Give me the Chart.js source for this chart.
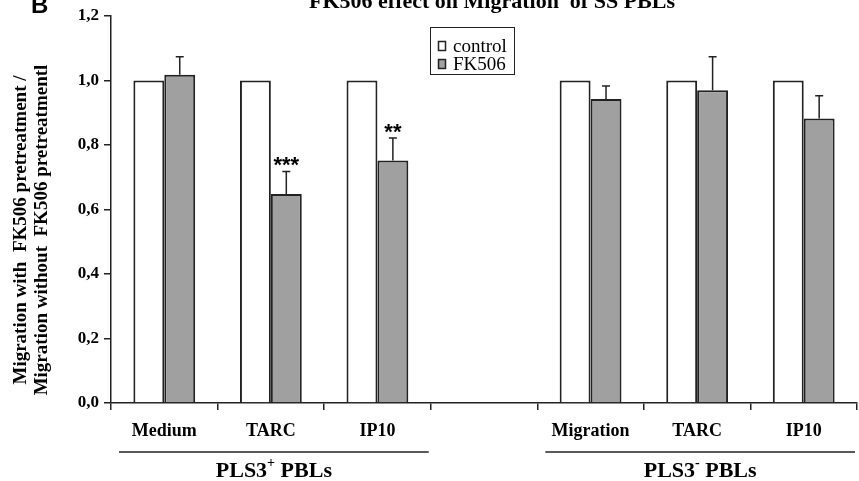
<!DOCTYPE html>
<html>
<head>
<meta charset="utf-8">
<script src="https://cdn.jsdelivr.net/npm/chart.js@4.4.1/dist/chart.umd.min.js"></script>
<style>
  body { margin: 0; background: #fff; }
  #wrap { width: 859px; height: 481px; }
</style>
</head>
<body>
<div id="wrap"><canvas id="fkChart" width="859" height="481"></canvas></div>
<script>
// categories (4th slot is the empty gap between the two groups)
const categories = ['Medium', 'TARC', 'IP10', '', 'Migration', 'TARC', 'IP10'];
const controlValues = [1.0, 1.0, 1.0, null, 1.0, 1.0, 1.0];
const fk506Values = [1.018, 0.648, 0.752, null, 0.943, 0.970, 0.882];
const fk506Errors = [0.056, 0.070, 0.070, null, 0.040, 0.104, 0.071];
const significance = ['', '***', '**', '', '', '', ''];
const groups = [
  { label: 'PLS3', sup: '+', rest: ' PBLs', from: 0, to: 2 },
  { label: 'PLS3', sup: '-', rest: ' PBLs', from: 4, to: 6 }
];
const yTitleLines = ['Migration with  FK506 pretreatment /', 'Migration without  FK506 pretreatmentl'];
const chartTitle = 'FK506 effect on Migration  of SS PBLs';

const ink = '#222';
const serif = '"Liberation Serif", "DejaVu Serif", serif';

// error bars, stars, legend, titles, group brackets
const extras = {
  id: 'extras',
  afterDatasetsDraw(chart) {
    const ctx = chart.ctx;
    const y = chart.scales.y;
    const meta = chart.getDatasetMeta(1);
    ctx.save();
    ctx.strokeStyle = ink;
    ctx.lineWidth = 1.5;
    meta.data.forEach((bar, i) => {
      if (fk506Values[i] == null) return;
      const top = y.getPixelForValue(fk506Values[i] + fk506Errors[i]);
      ctx.beginPath();
      ctx.moveTo(bar.x, bar.y);
      ctx.lineTo(bar.x, top);
      ctx.moveTo(bar.x - 4, top);
      ctx.lineTo(bar.x + 4, top);
      ctx.stroke();
      if (significance[i]) {
        ctx.fillStyle = '#000';
        ctx.font = 'bold 22px "Liberation Sans", Arial, sans-serif';
        ctx.textAlign = 'center';
        ctx.textBaseline = 'alphabetic';
        ctx.fillText(significance[i], bar.x, top + 1);
      }
    });
    ctx.restore();
  },
  afterDraw(chart) {
    const ctx = chart.ctx;
    const x = chart.scales.x;
    ctx.save();

    // panel letter and clipped title
    ctx.fillStyle = '#000';
    ctx.textBaseline = 'alphabetic';
    ctx.font = 'bold 24px "Liberation Sans", Arial, sans-serif';
    ctx.textAlign = 'left';
    ctx.fillText('B', 31, 13);
    ctx.font = 'bold 22px ' + serif;
    ctx.textAlign = 'center';
    ctx.fillText(chartTitle, 492, 8);

    // y axis title, two lines
    ctx.font = 'bold 19px ' + serif;
    yTitleLines.forEach((line, k) => {
      ctx.save();
      ctx.translate(21 + k * 21, 230);
      ctx.rotate(-Math.PI / 2);
      ctx.textAlign = 'center';
      ctx.textBaseline = 'middle';
      ctx.fillText(line, 0, 0);
      ctx.restore();
    });

    // legend box
    ctx.strokeStyle = ink;
    ctx.lineWidth = 1;
    ctx.strokeRect(430.5, 27.5, 84, 47);
    const legendItems = [
      { text: chart.data.datasets[0].label, fill: chart.data.datasets[0].backgroundColor },
      { text: chart.data.datasets[1].label, fill: chart.data.datasets[1].backgroundColor }
    ];
    ctx.font = '19px ' + serif;
    ctx.textAlign = 'left';
    ctx.textBaseline = 'middle';
    legendItems.forEach((it, k) => {
      const cy = 46 + k * 18;
      ctx.fillStyle = it.fill;
      ctx.fillRect(438.5, cy - 4.5, 7, 9);
      ctx.lineWidth = 1.5;
      ctx.strokeRect(438.5, cy - 4.5, 7, 9);
      ctx.fillStyle = '#000';
      ctx.fillText(it.text, 453, cy + 1);
    });

    // group brackets under the category labels
    const half = (x.getPixelForValue(1) - x.getPixelForValue(0)) / 2;
    groups.forEach(g => {
      const x0 = x.getPixelForValue(g.from) - half + 8;
      const x1 = x.getPixelForValue(g.to) + half - 2;
      ctx.strokeStyle = ink;
      ctx.lineWidth = 1.5;
      ctx.beginPath();
      ctx.moveTo(x0, 452);
      ctx.lineTo(x1, 452);
      ctx.stroke();
      ctx.fillStyle = '#000';
      ctx.textBaseline = 'alphabetic';
      ctx.textAlign = 'left';
      const big = 'bold 22px ' + serif;
      const small = 'bold 14px ' + serif;
      ctx.font = big;
      const w1 = ctx.measureText(g.label).width;
      const w3 = ctx.measureText(g.rest).width;
      ctx.font = small;
      const w2 = ctx.measureText(g.sup).width;
      let cx = (x0 + x1) / 2 - (w1 + w2 + w3) / 2;
      ctx.font = big;
      ctx.fillText(g.label, cx, 477);
      ctx.font = small;
      ctx.fillText(g.sup, cx + w1, 467);
      ctx.font = big;
      ctx.fillText(g.rest, cx + w1 + w2, 477);
    });
    ctx.restore();
  }
};

new Chart(document.getElementById('fkChart').getContext('2d'), {
  type: 'bar',
  data: {
    labels: categories,
    datasets: [
      {
        label: 'control',
        data: controlValues,
        backgroundColor: '#ffffff',
        borderColor: ink,
        borderWidth: 2,
        borderSkipped: 'bottom'
      },
      {
        label: 'FK506',
        data: fk506Values,
        backgroundColor: '#a0a0a0',
        borderColor: ink,
        borderWidth: 2,
        borderSkipped: 'bottom'
      }
    ]
  },
  options: {
    responsive: false,
    animation: false,
    categoryPercentage: 0.58,
    barPercentage: 1.0,
    layout: { padding: { top: 16, right: 2, left: 0, bottom: 0 } },
    plugins: {
      legend: { display: false },
      tooltip: { enabled: false },
      title: { display: false }
    },
    scales: {
      x: {
        afterFit(scale) { scale.height = 78; },
        border: { color: ink, width: 1.5 },
        grid: { display: true, drawOnChartArea: false, tickLength: 7, color: ink, lineWidth: 1.5, offset: true },
        ticks: {
          color: '#000',
          padding: 11,
          font: { family: serif, size: 18, weight: 'bold' },
          maxRotation: 0,
          autoSkip: false
        }
      },
      y: {
        min: 0,
        max: 1.2,
        afterFit(scale) { scale.width = 111; },
        border: { color: ink, width: 1.5 },
        grid: { display: true, drawOnChartArea: false, tickLength: 7, color: ink, lineWidth: 1.5 },
        ticks: {
          stepSize: 0.2,
          color: '#000',
          padding: 5,
          font: { family: serif, size: 17, weight: 'bold' },
          callback: v => v.toFixed(1).replace('.', ',')
        }
      }
    }
  },
  plugins: [extras]
});
</script>
</body>
</html>
